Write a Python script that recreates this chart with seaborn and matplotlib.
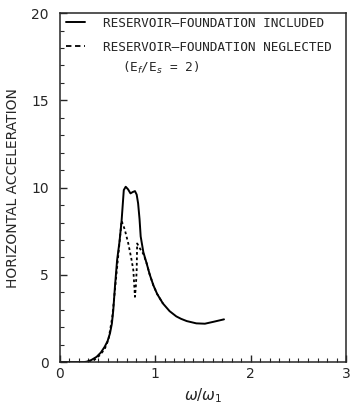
import matplotlib
matplotlib.use('Agg')
import matplotlib.pyplot as plt
import seaborn as sns
from matplotlib.lines import Line2D
from matplotlib.ticker import MultipleLocator

# frequency ratio and response, reservoir-foundation included (solid)
incl_x = [0, 0.25, 0.28, 0.33, 0.385, 0.43, 0.47, 0.50, 0.525, 0.545, 0.56, 0.577,
          0.60, 0.625, 0.647, 0.67, 0.69, 0.715, 0.74, 0.765, 0.787, 0.805, 0.82,
          0.835, 0.847, 0.875, 0.91, 0.94, 0.98, 1.02, 1.08, 1.15, 1.22, 1.27,
          1.33, 1.43, 1.52, 1.61, 1.72]
incl_y = [0, 0, 0.02, 0.12, 0.3, 0.55, 0.88, 1.2, 1.64, 2.2, 2.98, 4.3,
          5.85, 6.9, 8.1, 9.86, 10.05, 9.9, 9.67, 9.75, 9.8, 9.6, 9.1,
          8.2, 7.2, 6.3, 5.65, 5.05, 4.4, 3.9, 3.36, 2.92, 2.62, 2.48,
          2.35, 2.22, 2.2, 2.31, 2.45]

# reservoir-foundation neglected (dashed)
negl_x = [0.3, 0.36, 0.42, 0.47, 0.51, 0.55, 0.58, 0.61, 0.635, 0.647, 0.68, 0.717,
          0.75, 0.77, 0.787, 0.797, 0.805, 0.81, 0.84, 0.875, 0.91, 0.94, 0.98,
          1.02, 1.08]
negl_y = [0, 0.12, 0.4, 0.75, 1.3, 2.6, 4.3, 6.0, 7.4, 8.1, 7.6, 6.8,
          5.9, 5.27, 3.74, 4.4, 5.27, 6.8, 6.5, 6.2, 5.65, 5.05, 4.4,
          3.9, 3.36]

sns.set_style('ticks')
plt.rcParams['font.family'] = ['DejaVu Sans']

fig = plt.figure(figsize=(3.5, 4.11), dpi=100)
ax = fig.add_axes([0.171, 0.119, 0.818, 0.849])

dash = (0, (1.5, 1.5))
sns.lineplot(x=incl_x, y=incl_y, ax=ax, color='black', lw=1.4, sort=False)
sns.lineplot(x=negl_x, y=negl_y, ax=ax, color='black', lw=1.3, sort=False,
             linestyle=dash)

ax.set_xlim(0, 3)
ax.set_ylim(0, 20)
ax.set_xticks([0, 1, 2, 3])
ax.set_yticks([0, 5, 10, 15, 20])
ax.xaxis.set_minor_locator(MultipleLocator(0.1))
ax.yaxis.set_minor_locator(MultipleLocator(1))
ax.tick_params(which='both', direction='in', labelsize=10)
ax.tick_params(which='major', length=5, width=1)
ax.tick_params(which='minor', length=3, width=0.8)
ax.tick_params(axis='y', pad=8)
for s in ax.spines.values():
    s.set_linewidth(1.1)

ax.set_xlabel(r'$\omega/\omega_1$', fontsize=11)
ax.set_ylabel('HORIZONTAL ACCELERATION', fontsize=10, labelpad=8)

handles = [Line2D([], [], color='black', lw=1.4),
           Line2D([], [], color='black', lw=1.3, linestyle=(0, (3, 2)))]
ax.legend(handles, ['RESERVOIR\u2013FOUNDATION INCLUDED',
                    'RESERVOIR\u2013FOUNDATION NEGLECTED'],
          loc='upper left', bbox_to_anchor=(0.02, 0.99), frameon=False,
          handlelength=1.5, handletextpad=1.45, borderpad=0, borderaxespad=0,
          prop={'family': 'DejaVu Sans Mono', 'size': 9.2}, labelspacing=0.85)
ax.text(0.217, 0.842, r'(E$_f$/E$_s$ = 2)', transform=ax.transAxes,
        fontsize=9.2, family='DejaVu Sans Mono', va='center')

fig.savefig('out.png', dpi=100)
